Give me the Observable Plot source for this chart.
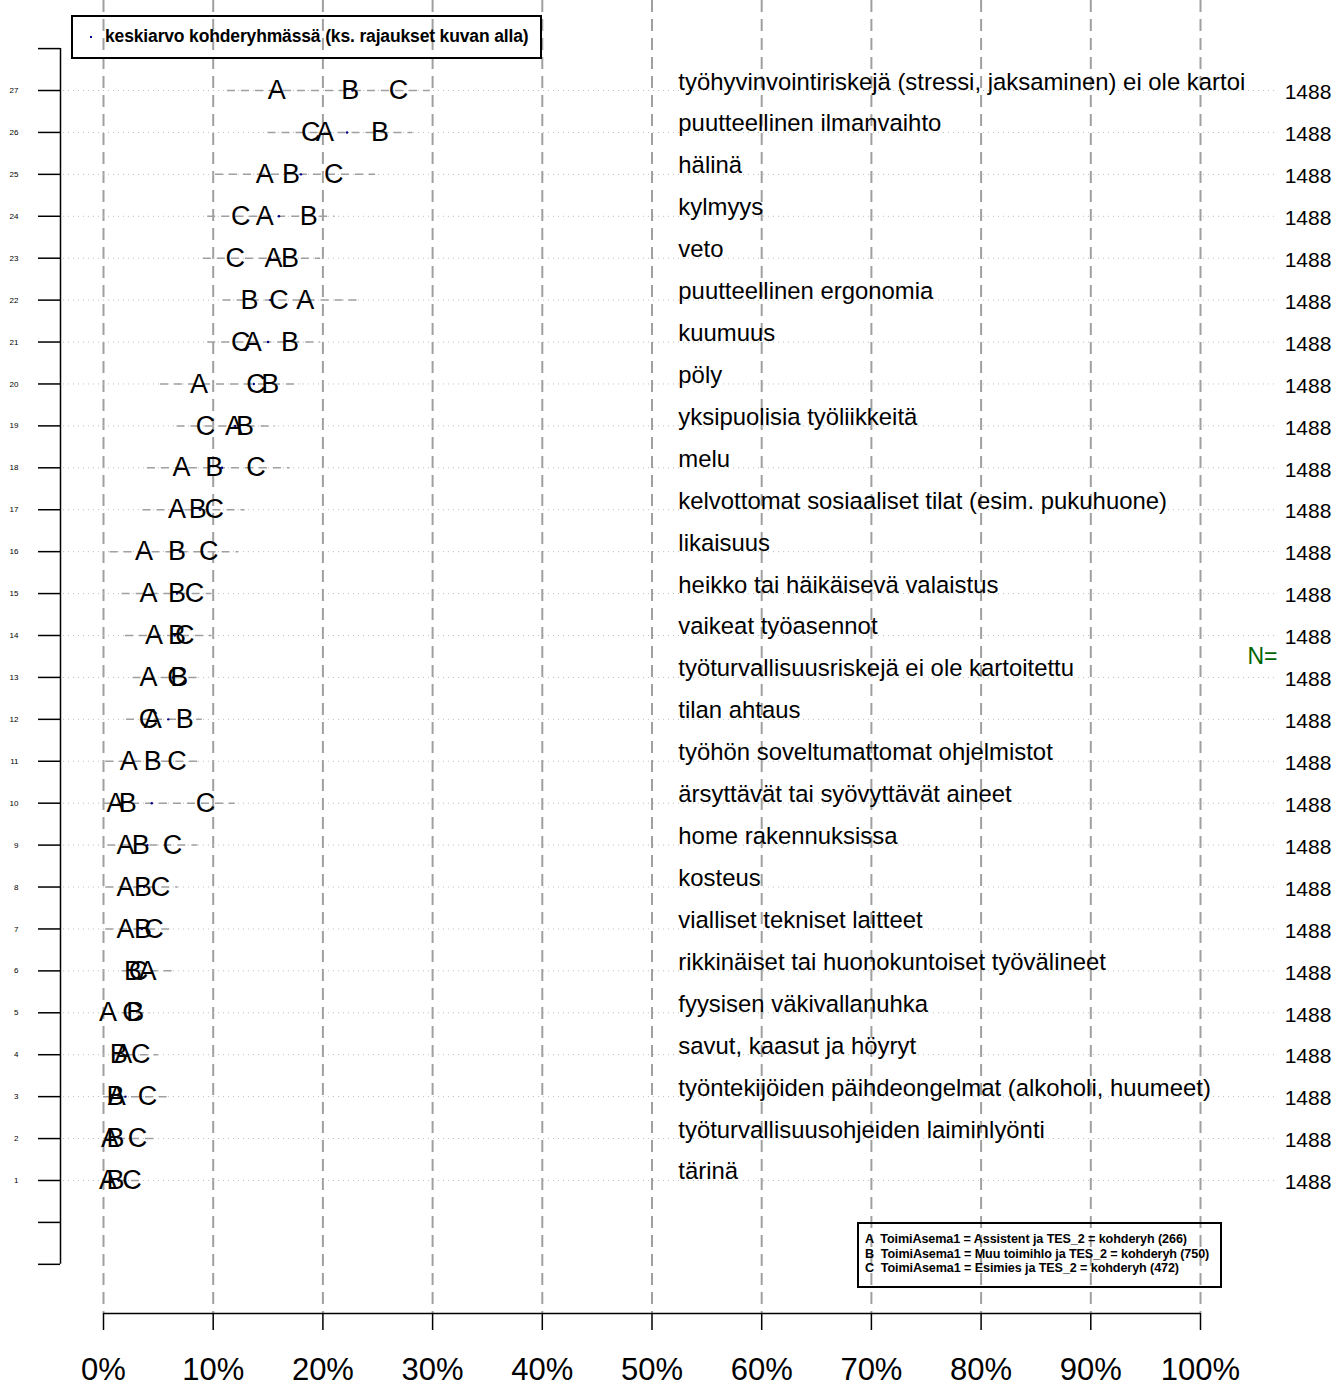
<!DOCTYPE html>
<html><head><meta charset="utf-8">
<script src="https://cdn.jsdelivr.net/npm/d3@7"></script>
<script src="https://cdn.jsdelivr.net/npm/@observablehq/plot@0.6"></script>
<style>
body{margin:0;background:#fff;font-family:"Liberation Sans",Arial,sans-serif;}
#wrap{position:relative;width:1343px;height:1387px;overflow:hidden;}
#wrap svg{position:absolute;left:0;top:0;}
.box{position:absolute;border:2px solid #000;box-sizing:border-box;color:#000;font-weight:bold;}
</style></head><body><div id="wrap"></div><script>
(function(){
// rows listed top (27) to bottom (1)
const rowIds = d3.range(27, 0, -1);
const labels = [
  "työhyvinvointiriskejä (stressi, jaksaminen) ei ole kartoi",
  "puutteellinen ilmanvaihto",
  "hälinä",
  "kylmyys",
  "veto",
  "puutteellinen ergonomia",
  "kuumuus",
  "pöly",
  "yksipuolisia työliikkeitä",
  "melu",
  "kelvottomat sosiaaliset tilat (esim. pukuhuone)",
  "likaisuus",
  "heikko tai häikäisevä valaistus",
  "vaikeat työasennot",
  "työturvallisuusriskejä ei ole kartoitettu",
  "tilan ahtaus",
  "työhön soveltumattomat ohjelmistot",
  "ärsyttävät tai syövyttävät aineet",
  "home rakennuksissa",
  "kosteus",
  "vialliset tekniset laitteet",
  "rikkinäiset tai huonokuntoiset työvälineet",
  "fyysisen väkivallanuhka",
  "savut, kaasut ja höyryt",
  "työntekijöiden päihdeongelmat (alkoholi, huumeet)",
  "työturvallisuusohjeiden laiminlyönti",
  "tärinä"
];
const valA = [15.8, 20.2, 14.7, 14.7, 15.5, 18.4, 13.6, 8.7, 11.9, 7.1, 6.7, 3.7, 4.1, 4.6, 4.1, 4.5, 2.3, 1.1, 2.0, 2.0, 2.0, 4.0, 0.4, 1.8, 1.2, 0.6, 0.4];
const valB = [22.5, 25.2, 17.1, 18.7, 17.0, 13.3, 17.0, 15.2, 12.9, 10.1, 8.6, 6.7, 6.7, 6.7, 6.9, 7.4, 4.5, 2.2, 3.4, 3.6, 3.6, 2.7, 2.9, 1.4, 1.1, 1.1, 1.1];
const valC = [26.9, 18.9, 21.0, 12.5, 12.0, 16.0, 12.5, 13.9, 9.3, 13.9, 10.1, 9.6, 8.3, 7.4, 6.7, 4.1, 6.7, 9.3, 6.3, 5.2, 4.6, 3.2, 2.6, 3.4, 4.0, 3.1, 2.6];
const meanAll = [22.7, 22.2, 18.0, 16.0, 15.2, 15.2, 15.0, 13.7, 12.0, 10.8, 8.8, 7.0, 6.7, 6.5, 6.3, 5.9, 4.8, 4.4, 4.0, 3.7, 3.5, 3.1, 2.4, 2.1, 2.0, 1.6, 1.4];
const rangeLo = [11.3, 15.0, 10.2, 9.5, 9.1, 10.9, 9.5, 5.2, 6.7, 4.0, 3.6, 0.6, 1.7, 2.0, 2.7, 2.1, 0.2, 0.0, 0.4, 0.2, 0.2, 1.7, 1.7, 0.8, 0.0, 0.0, 0.0];
const rangeHi = [29.8, 28.2, 24.8, 21.1, 19.8, 23.2, 19.8, 18.0, 15.7, 17.0, 12.9, 12.3, 9.9, 9.9, 9.0, 9.0, 8.8, 12.0, 8.6, 6.8, 6.3, 6.3, 4.3, 5.0, 5.8, 4.7, 3.6];
const nVals = [1488,1488,1488,1488,1488,1488,1488,1488,1488,1488,1488,1488,1488,1488,1488,1488,1488,1488,1488,1488,1488,1488,1488,1488,1488,1488,1488];
const xTicks = [0,10,20,30,40,50,60,70,80,90,100];
const yTicks = d3.range(-1, 29);
const groupNames = ["A","B","C"];
const legendLines = [
  "A  ToimiAsema1 = Assistent ja TES_2 = kohderyh (266)",
  "B  ToimiAsema1 = Muu toimihlo ja TES_2 = kohderyh (750)",
  "C  ToimiAsema1 = Esimies ja TES_2 = kohderyh (472)"
];
const legendTop = "keskiarvo kohderyhmässä (ks. rajaukset kuvan alla)";

const data = rowIds.map((r, i) => ({row: r, label: labels[i], a: valA[i], b: valB[i], c: valC[i],
  mean: meanAll[i], lo: rangeLo[i], hi: rangeHi[i], n: nVals[i]}));
const letters = data.flatMap(d => [
  {row: d.row, v: d.a, t: groupNames[0]},
  {row: d.row, v: d.b, t: groupNames[1]},
  {row: d.row, v: d.c, t: groupNames[2]}
]);

const xMin = -43 / 10.97;
const yDom = [-2.173, 29.147];
const font = '"Liberation Sans", Arial, sans-serif';

const plot = Plot.plot({
  width: 1343, height: 1387,
  marginLeft: 60, marginRight: 143, marginTop: 0, marginBottom: 74,
  x: {domain: [xMin, 100]},
  y: {domain: yDom},
  style: {fontFamily: font, background: "white", color: "black"},
  marks: [
    Plot.gridX({ticks: xTicks, stroke: "#a0a0a0", strokeOpacity: 1, strokeWidth: 2, strokeDasharray: "12,7"}),
    Plot.ruleY(rowIds, {x1: -3.65, x2: 106.8, stroke: "#bbbbbb", strokeWidth: 1, strokeDasharray: "1,4"}),
    Plot.ruleY(data, {y: "row", x1: "lo", x2: "hi", stroke: "#a0a0a0", strokeWidth: 1.5, strokeDasharray: "8,6"}),
    Plot.dot(data, {x: "mean", y: "row", r: 1.2, fill: "#00008b", stroke: null}),
    Plot.text(letters, {x: "v", y: "row", text: "t", fontSize: 27, fill: "black"}),
    Plot.text(data, {x: 52.4, y: "row", text: "label", textAnchor: "start", lineAnchor: "bottom", dy: -1, fontSize: 23.9, fill: "black"}),
    Plot.text(data, {x: 109.8, y: "row", text: d => String(d.n), dy: 2, fontSize: 21, fill: "black"}),
    Plot.text(["N="], {x: 105.65, y: 13.5, text: d => d, fontSize: 23, fill: "#006400"}),
    Plot.axisY({ticks: yTicks, tickSize: 22, tickPadding: 20, fontSize: 8, label: null, strokeWidth: 1.5,
      tickFormat: d => (d >= 1 && d <= 27) ? String(d) : ""}),
    Plot.ruleX([xMin], {y1: -1, y2: 28, strokeWidth: 1.5, stroke: "black"}),
    Plot.axisX({ticks: xTicks, tickSize: 17, tickPadding: 27, fontSize: 31, label: null, strokeWidth: 1.5,
      tickFormat: d => d + "%"}),
    Plot.ruleY([yDom[0]], {x1: 0, x2: 100, strokeWidth: 1.5, stroke: "black"})
  ]
});
const wrap = document.getElementById("wrap");
wrap.appendChild(plot);

// top legend box
const topBox = document.createElement("div");
topBox.className = "box";
Object.assign(topBox.style, {left: "71px", top: "15px", width: "471px", height: "44px"});
topBox.innerHTML = `<span style="position:absolute;left:17px;top:19px;width:2px;height:2px;background:#00008b"></span>
<span style="position:absolute;left:32px;top:9px;font-size:17.5px;letter-spacing:-0.15px;white-space:nowrap">${legendTop}</span>`;
wrap.appendChild(topBox);

// bottom legend box
const botBox = document.createElement("div");
botBox.className = "box";
Object.assign(botBox.style, {left: "857px", top: "1222px", width: "365px", height: "66px"});
botBox.innerHTML = legendLines.map((t, i) =>
  `<div style="position:absolute;left:6px;top:${9 + i * 14.5}px;font-size:12.6px;line-height:13px;letter-spacing:-0.1px;white-space:pre">${t}</div>`).join("");
wrap.appendChild(botBox);
})();
</script></body></html>
